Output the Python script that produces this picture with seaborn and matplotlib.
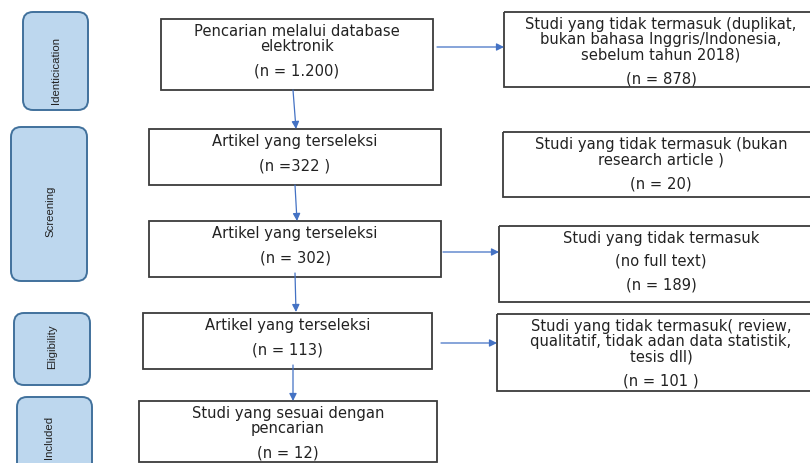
import seaborn as sns
import matplotlib.pyplot as plt
from matplotlib.patches import FancyBboxPatch, Rectangle

# PRISMA flow data
stage_names = ["Identicication", "Screening", "Eligibility", "Included"]

main_titles = [
    ["Pencarian melalui database", "elektronik"],
    ["Artikel yang terseleksi"],
    ["Artikel yang terseleksi"],
    ["Artikel yang terseleksi"],
    ["Studi yang sesuai dengan", "pencarian"],
]
main_n = ["(n = 1.200)", "(n =322 )", "(n = 302)", "(n = 113)", "(n = 12)"]

excl_titles = [
    ["Studi yang tidak termasuk (duplikat,", "bukan bahasa Inggris/Indonesia,", "sebelum tahun 2018)"],
    ["Studi yang tidak termasuk (bukan", "research article )"],
    ["Studi yang tidak termasuk", None, "(no full text)"],
    ["Studi yang tidak termasuk( review,", "qualitatif, tidak adan data statistik,", "tesis dll)"],
]
excl_n = ["(n = 878)", "(n = 20)", "(n = 189)", "(n = 101 )"]

# layout (pixels, y downwards)
stage_boxes = [(23, 13, 88, 111), (11, 128, 87, 282), (14, 314, 90, 386), (17, 398, 92, 490)]
stage_text = [(56, 71), (50, 211), (52, 347), (49, 437)]
main_boxes = [(161, 20, 433, 91), (149, 130, 441, 186), (149, 222, 441, 278),
              (143, 314, 432, 370), (139, 402, 437, 463)]
excl_boxes = [(504, 13, 818, 88), (503, 133, 818, 198), (499, 227, 818, 303), (497, 315, 818, 392)]
down_arrows = [((293, 91), (296, 130)), ((295, 186), (297, 222)),
               ((295, 274), (296, 313)), ((293, 366), (293, 402))]
side_arrows = [((437, 48), (504, 48)), ((443, 253), (499, 253)), ((441, 344), (497, 344))]

sns.set_style("white")
plt.rcParams['font.family'] = ['DejaVu Sans']

fig = plt.figure(figsize=(8.1, 4.64), dpi=100)
ax = fig.add_axes([0, 0, 1, 1])
ax.set_xlim(0, 810)
ax.set_ylim(464, 0)
ax.axis("off")

edge = "#3c3c3c"
blue = "#4472C4"
fs = 10.6
line_h = 14.8
para_gap = 24


def draw_box(box, titles, nlabel):
    x0, y0, x1, y1 = box
    ax.add_patch(Rectangle((x0, y0), x1 - x0, y1 - y0, fill=False,
                           edgecolor=edge, linewidth=1.3))
    cx = (x0 + x1) / 2 if x1 < 810 else 661
    y = y0 + 12
    for i, t in enumerate(titles):
        if t is None:
            y += 7
            continue
        if i > 0:
            y += line_h
        ax.text(cx, y, t, ha="center", va="center", fontsize=fs, color="#222222")
    ax.text(cx, y + para_gap, nlabel, ha="center", va="center", fontsize=fs, color="#222222")


for box, txt, name in zip(stage_boxes, stage_text, stage_names):
    x0, y0, x1, y1 = box
    ax.add_patch(FancyBboxPatch((x0, y0), x1 - x0, y1 - y0,
                                boxstyle="round,pad=0,rounding_size=10",
                                facecolor="#BDD7EE", edgecolor="#41719C", linewidth=1.4))
    ax.text(txt[0], txt[1], name, rotation=90, ha="center", va="center",
            fontsize=8.2, color="#222222", family="Liberation Sans")

for box, t, n in zip(main_boxes, main_titles, main_n):
    draw_box(box, t, n)

for box, t, n in zip(excl_boxes, excl_titles, excl_n):
    draw_box(box, t, n)

for (a, b) in down_arrows + side_arrows:
    ax.annotate("", xy=b, xytext=a,
                arrowprops=dict(arrowstyle="-|>", color=blue, lw=0.9,
                                mutation_scale=11, shrinkA=0, shrinkB=0))

plt.savefig("out.png", dpi=100)
